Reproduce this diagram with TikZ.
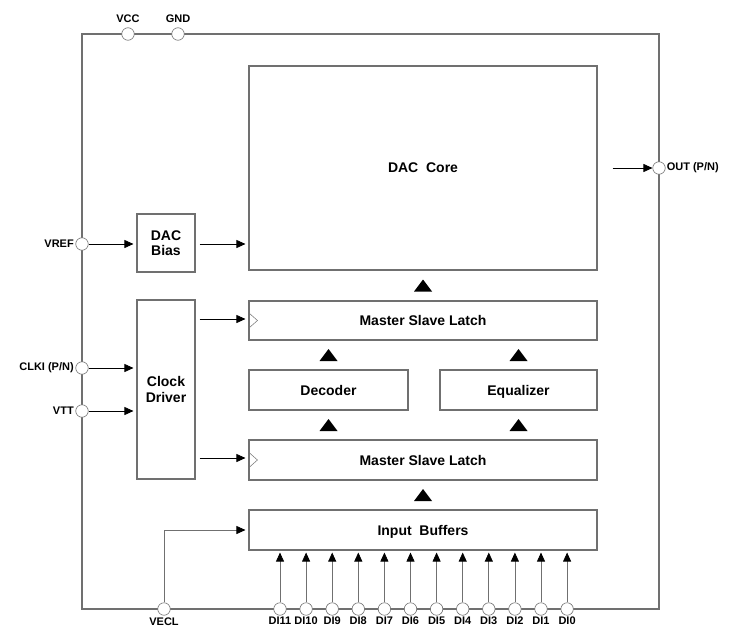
\documentclass[tikz,border=0pt]{standalone}
\usepackage{fontspec}
\setmainfont{Liberation Sans}
\usetikzlibrary{arrows.meta,calc}
\definecolor{frame}{RGB}{112,112,112}
\tikzset{
  blk/.style={draw=frame, line width=1.1pt, fill=white, inner sep=0pt, text depth=0pt,
    font=\fontsize{14}{15.5}\selectfont\bfseries, align=center},
  pin/.style={circle, draw=frame, fill=white, line width=0.6pt, inner sep=0pt, minimum size=12.5pt},
  pinlbl/.style={font=\fontsize{11}{13}\selectfont\bfseries, inner sep=1.5pt},
  arr/.style={-{Triangle[length=9pt,width=8pt,black]}, line width=0.7pt},
  garr/.style={arr, draw=frame},
}
% filled up-pointing mark between two blocks
\newcommand{\upmark}[1]{\fill #1 ++(-9,6) -- ++(18,0) -- ++(-9,-12) -- cycle;}
% open clock triangle on a latch's left edge
\newcommand{\clkmark}[1]{\draw[frame, line width=0.5pt] #1 ++(0,-8) -- ++(9,8) -- ++(-9,8);}
\begin{document}
\begin{tikzpicture}[x=1pt,y=-1pt]
\useasboundingbox (0,0) rectangle (731,634);
% outer frame
\draw[frame, line width=1.1pt] (82,34) rectangle (659,609);

% blocks
\node[blk, minimum width=348pt, minimum height=204pt] (core) at (423,168) {DAC\ \ Core};
\node[blk, minimum width=58pt, minimum height=58pt] (bias) at (166,243) {DAC\\Bias};
\node[blk, minimum width=58pt, minimum height=179pt] (clk) at (166,389.5) {Clock\\Driver};
\node[blk, minimum width=348pt, minimum height=39pt] (latchA) at (423,320.5) {Master Slave Latch};
\node[blk, minimum width=159pt, minimum height=40pt] (dec) at (328.5,390) {Decoder};
\node[blk, minimum width=157pt, minimum height=40pt] (eq) at (518.5,390) {Equalizer};
\node[blk, minimum width=348pt, minimum height=40pt] (latchB) at (423,460) {Master Slave Latch};
\node[blk, minimum width=348pt, minimum height=40pt] (inbuf) at (423,530) {Input\ \ Buffers};

% clock inputs of the latches
\clkmark{(latchA.west)}
\clkmark{(latchB.west)}

% marks between blocks
\upmark{($(core.south)!0.5!(latchA.north)$)}
\upmark{($(latchA.south -| dec)!0.5!(dec.north)$)}
\upmark{($(latchA.south -| eq)!0.5!(eq.north)$)}
\upmark{($(dec.south)!0.5!(latchB.north -| dec)$)}
\upmark{($(eq.south)!0.5!(latchB.north -| eq)$)}
\upmark{($(latchB.south)!0.5!(inbuf.north)$)}

% pins
\node[pin] (vcc) at (128,34) {};
\node[pin] (gnd) at (178,34) {};
\node[pin] (vref) at (82,244) {};
\node[pin] (clki) at (82,368) {};
\node[pin] (vtt) at (82,411) {};
\node[pin] (out) at (659,168) {};
\node[pin] (vecl) at (164,609) {};
\foreach \i in {0,...,11}
  \node[pin] (di\i) at ({280+26.1*(11-\i)},609) {};

% pin labels
\node[pinlbl, above=3pt] at (vcc.north) {VCC};
\node[pinlbl, above=3pt] at (gnd.north) {GND};
\node[pinlbl, left] at (vref.west) {VREF};
\node[pinlbl, left] at (clki.west) {CLKI (P/N)};
\node[pinlbl, left] at (vtt.west) {VTT};
\node[pinlbl, right, inner sep=1pt] at (out.east) {OUT (P/N)};
\node[pinlbl, below=1pt] at (vecl.south) {VECL};
\foreach \i in {0,...,11}
  \node[pinlbl, below=1pt, inner sep=0pt] at (di\i.south) {DI\i};

% connectors
\draw[arr, shorten >=3pt] (vref) -- (vref -| bias.west);
\draw[arr, shorten <=4pt, shorten >=3pt] (vref -| bias.east) -- (vref -| core.west);
\draw[arr, shorten >=3pt] (clki) -- (clki -| clk.west);
\draw[arr, shorten >=3pt] (vtt) -- (vtt -| clk.west);
\draw[arr, shorten <=4pt, shorten >=3pt] ([yshift=1.5pt]latchA.west -| clk.east) -- ([yshift=1.5pt]latchA.west);
\draw[arr, shorten <=4pt, shorten >=3pt] ([yshift=2pt]latchB.west -| clk.east) -- ([yshift=2pt]latchB.west);
\draw[arr, shorten <=15pt] (core.east |- out) -- (out);
\draw[garr, shorten >=3pt] (vecl) |- (inbuf.west);
\foreach \i in {0,...,11}
  \draw[garr, shorten >=2pt] (di\i) -- (di\i |- inbuf.south);
\end{tikzpicture}
\end{document}
